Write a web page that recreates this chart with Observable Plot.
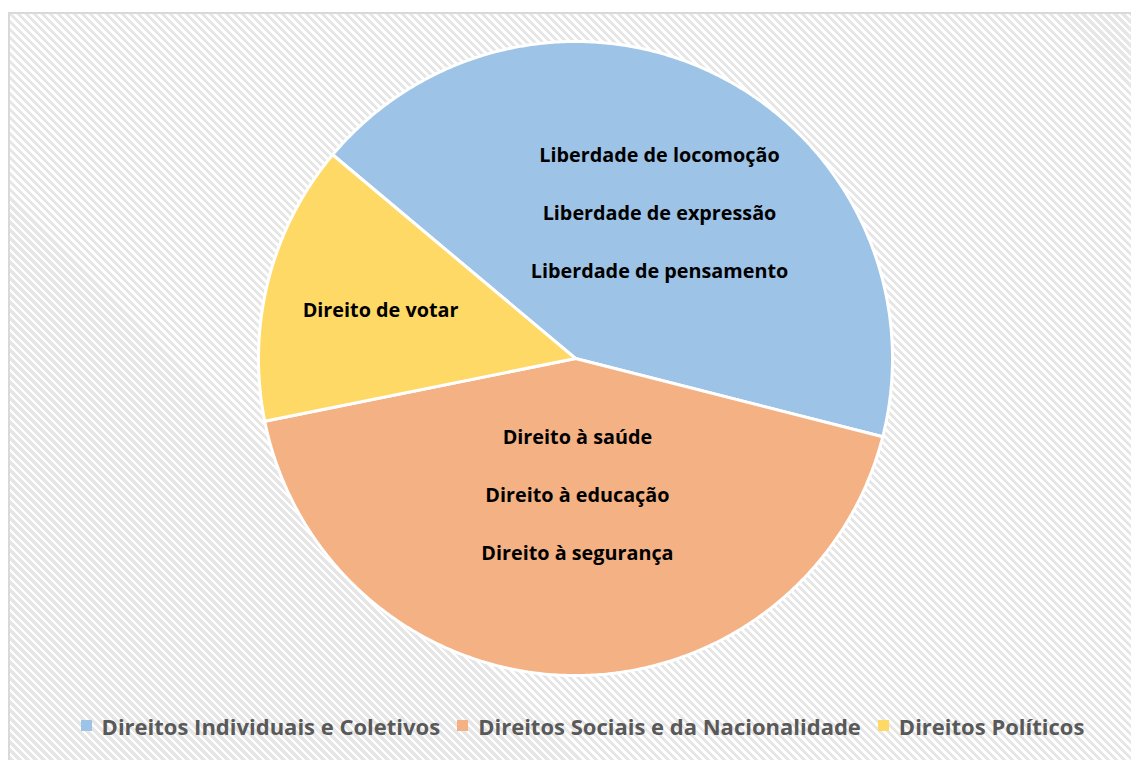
<!DOCTYPE html>
<html>
<head>
<meta charset="utf-8">
<script src="https://cdn.jsdelivr.net/npm/d3@7"></script>
<script src="https://cdn.jsdelivr.net/npm/@observablehq/plot@0.6"></script>
<style>
  html, body { margin: 0; padding: 0; width: 1131px; height: 760px; overflow: hidden; background: #fff; }
  .frame {
    position: absolute; left: 8px; top: 12px; width: 1140px; height: 770px;
    border: 2px solid #d9d9d9; box-sizing: border-box;
    background: repeating-linear-gradient(45deg, #ffffff 0px, #ffffff 2.6px, #e6e6e6 2.6px, #e6e6e6 5.66px);
  }
  #chart { position: absolute; left: 0; top: 0; }
  #legend { position: absolute; left: 0; top: 709px; width: 1165px; display: flex; justify-content: center; }
  div.lg-swatches .lg-swatch { margin-right: 17px !important; }
  div.lg-swatches .lg-swatch svg { margin-right: 10px !important; }
  div.lg-swatches .lg-swatch:last-child { margin-right: 0 !important; }
</style>
</head>
<body>
<div class="frame"></div>
<div id="chart"></div>
<div id="legend"></div>
<script>
// ---- data ----
const categories = ["Direitos Individuais e Coletivos", "Direitos Sociais e da Nacionalidade", "Direitos Políticos"];
const values = [3, 3, 1];
const items = [
  ["Liberdade de locomoção", "Liberdade de expressão", "Liberdade de pensamento"],
  ["Direito à saúde", "Direito à educação", "Direito à segurança"],
  ["Direito de votar"]
];
const colors = ["#9DC3E6", "#F4B183", "#FFD966"];

// ---- layout (not data) ----
const firstSliceAngle = 310; // degrees, clockwise from 12 o'clock
const labelAnchors = [[0.265, 0.457], [0.006, -0.432], [-0.615, 0.151]]; // unit-circle coords
const lineStep = 0.183;

const pie = d3.pie().sort(null).value(d => d.value)
  .startAngle(firstSliceAngle * Math.PI / 180)
  .endAngle(firstSliceAngle * Math.PI / 180 + 2 * Math.PI);
const arcs = pie(categories.map((c, i) => ({category: c, value: values[i]})));

const slicePts = [];
arcs.forEach(a => {
  const c = a.data.category;
  slicePts.push({category: c, x: 0, y: 0});
  const n = Math.max(2, Math.ceil((a.endAngle - a.startAngle) / (Math.PI / 360)));
  for (let k = 0; k <= n; k++) {
    const t = a.startAngle + (a.endAngle - a.startAngle) * k / n;
    slicePts.push({category: c, x: Math.sin(t), y: Math.cos(t)});
  }
});

const labelRows = [];
items.forEach((list, i) => {
  const [ax, ay] = labelAnchors[i];
  const mid = (list.length - 1) / 2;
  list.forEach((txt, j) => labelRows.push({text: txt, x: ax, y: ay + (mid - j) * lineStep}));
});

const colorScale = {type: "ordinal", domain: categories, range: colors};

const chart = Plot.plot({
  width: 1131,
  height: 700,
  margin: 0,
  x: {domain: [-1, 1], range: [258, 892], axis: null},
  y: {domain: [-1, 1], range: [675, 41], axis: null},
  color: colorScale,
  style: {background: "transparent", overflow: "visible"},
  marks: [
    Plot.line(slicePts, {x: "x", y: "y", z: "category", fill: "category", stroke: "#ffffff", strokeWidth: 3, curve: "linear-closed", strokeLinejoin: "miter"}),
    Plot.text(labelRows, {x: "x", y: "y", text: "text", fill: "#000000", fontSize: 19.8, fontWeight: "bold", fontFamily: "Open Sans", lineAnchor: "middle"})
  ]
});
document.getElementById("chart").appendChild(chart);

const legend = Plot.legend({
  color: colorScale,
  legend: "swatches",
  className: "lg",
  swatchSize: 11,
  style: {fontFamily: "Open Sans", fontSize: "22px", fontWeight: "bold", color: "#595959", background: "transparent"}
});
document.getElementById("legend").appendChild(legend);
</script>
</body>
</html>
